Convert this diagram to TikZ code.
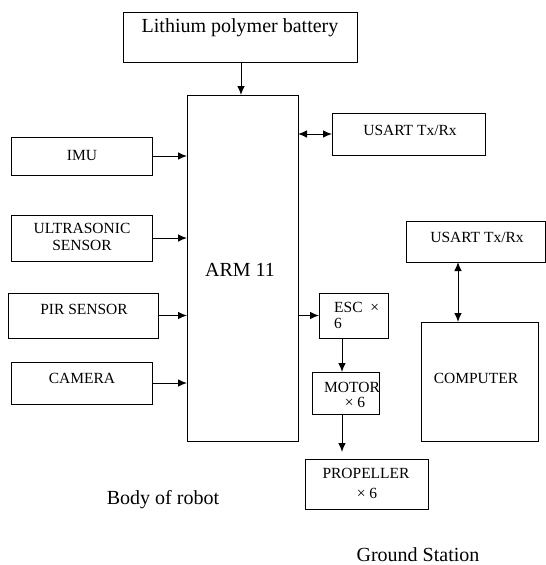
\documentclass[tikz,border=0pt]{standalone}
\usepackage{fontspec}
\setmainfont{Liberation Serif}
\usetikzlibrary{arrows.meta}
\begin{document}
\begin{tikzpicture}[x=1pt,y=-1pt,
  box/.style={draw, line width=1pt, rectangle, inner sep=0pt, outer sep=0pt, anchor=north west},
  txt/.style={inner sep=0pt, font=\fontsize{15.5}{17}\selectfont, align=center},
  bigtxt/.style={inner sep=0pt, font=\fontsize{20}{22}\selectfont},
  arr/.style={line width=1pt, -{Latex[length=9pt,width=7.5pt]}},
  darr/.style={line width=1pt, {Latex[length=9pt,width=7.5pt]}-{Latex[length=9pt,width=7.5pt]}}]
\useasboundingbox (0,0) rectangle (546,565);
% boxes
\node[box, minimum width=234pt, minimum height=50pt] (bat) at (123,12) {};
\node[box, minimum width=111pt, minimum height=346pt] (arm) at (187,95) {};
\node[box, minimum width=153pt, minimum height=42pt] (usa) at (332,113) {};
\node[box, minimum width=141pt, minimum height=38pt] (imu) at (11,137) {};
\node[box, minimum width=141pt, minimum height=46pt] (ult) at (11,215) {};
\node[box, minimum width=150pt, minimum height=45pt] (pir) at (8,293) {};
\node[box, minimum width=141pt, minimum height=42pt] (cam) at (11,362) {};
\node[box, minimum width=69pt, minimum height=45pt] (esc) at (319,293) {};
\node[box, minimum width=67pt, minimum height=42pt] (mot) at (312,372) {};
\node[box, minimum width=123pt, minimum height=50pt] (pro) at (305,459) {};
\node[box, minimum width=139pt, minimum height=41pt] (usb) at (406,221) {};
\node[box, minimum width=117pt, minimum height=119pt] (com) at (421,322) {};
% texts
\node[bigtxt] (tbat) at (240,28) {Lithium polymer battery};
\node[bigtxt] (tarm) at (240,270) {ARM 11};
\node[txt] (tusa) at (410,130) {USART Tx/Rx};
\node[txt] (timu) at (82,155) {IMU};
\node[txt] (tult1) at (82,228) {ULTRASONIC};
\node[txt] (tult2) at (82,245) {SENSOR};
\node[txt] (tpir) at (84,309) {PIR SENSOR};
\node[txt] (tcam) at (82,378) {CAMERA};
\node[txt, anchor=west] (tesc1) at (334,307) {ESC~~×};
\node[txt, anchor=west] (tesc2) at (334,323) {6};
\node[txt] (tmot1) at (352,387) {MOTOR};
\node[txt] (tmot2) at (355,402) {× 6};
\node[txt] (tpro1) at (366,473) {PROPELLER};
\node[txt] (tpro2) at (367,493) {× 6};
\node[txt] (tusb) at (477,237) {USART Tx/Rx};
\node[txt] (tcom) at (476,378) {COMPUTER};
\node[bigtxt] (tbody) at (163,500) {Body of robot};
\node[bigtxt] (tgs) at (418,555) {Ground Station};
% helper coordinates
\coordinate (bx) at (241,0);
\coordinate (mx) at (342,0);
\coordinate (gx) at (458,0);
% connectors
\draw[arr] (bat.south -| bx) -- (arm.north -| bx);
\draw[arr] (imu.east) -- (imu.east -| arm.west);
\draw[arr] (ult.east) -- (ult.east -| arm.west);
\draw[arr] (pir.east) -- (pir.east -| arm.west);
\draw[arr] (cam.east) -- (cam.east -| arm.west);
\draw[darr] (usa.west -| arm.east) -- (usa.west);
\draw[arr] (esc.west -| arm.east) -- (esc.west);
\draw[arr] (esc.south -| mx) -- (mot.north -| mx);
\draw[arr, shorten >=7pt] (mot.south -| mx) -- (pro.north -| mx);
\draw[darr] (usb.south -| gx) -- (com.north -| gx);
\end{tikzpicture}
\end{document}
